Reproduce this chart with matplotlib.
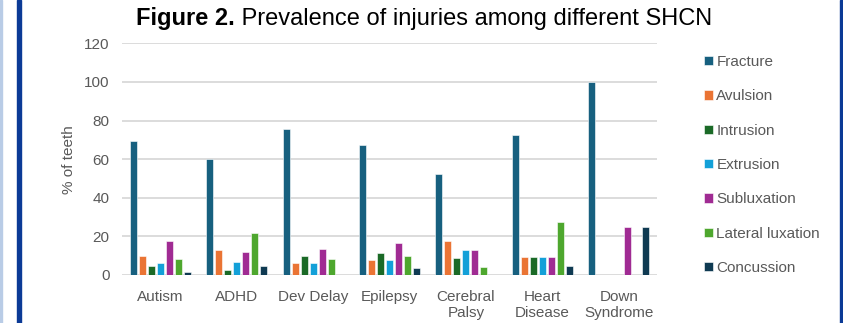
import matplotlib
matplotlib.use("Agg")
import matplotlib.pyplot as plt
from matplotlib.patches import Rectangle
import numpy as np

plt.rcParams['font.family'] = ['Liberation Sans', 'DejaVu Sans']

# data (% of teeth)
groups = ["Autism", "ADHD", "Dev Delay", "Epilepsy", "Cerebral\nPalsy",
          "Heart\nDisease", "Down\nSyndrome"]
injuries = ["Fracture", "Avulsion", "Intrusion", "Extrusion", "Subluxation",
            "Lateral luxation", "Concussion"]
fracture = [69.2, 60.0, 75.5, 67.5, 52.2, 72.7, 100.0]
avulsion = [9.6, 12.9, 6.0, 7.6, 17.4, 9.1, 0]
intrusion = [4.6, 2.4, 9.7, 11.2, 8.7, 9.1, 0]
extrusion = [6.4, 6.9, 6.0, 7.6, 13.0, 9.1, 0]
subluxation = [17.6, 11.9, 13.4, 16.4, 13.0, 9.1, 25.0]
lateral = [8.1, 21.5, 8.3, 10.0, 4.3, 27.3, 0]
concussion = [1.5, 4.6, 0, 3.6, 0, 4.5, 25.0]
colors = ["#17607f", "#ea7434", "#1b6a27", "#13a0d8", "#a02b93", "#4ea72e", "#0f3a52"]

series = [fracture, avulsion, intrusion, extrusion, subluxation, lateral, concussion]

fig = plt.figure(figsize=(8.43, 3.23), dpi=100)
W, H = 843, 323
ax = fig.add_axes([122 / W, 48 / H, 535 / W, 231.7 / H])

x = np.arange(len(groups))
slot = 9 / 76.4
for j, (vals, name, c) in enumerate(zip(series, injuries, colors)):
    ax.bar(x + (j - 3) * slot, vals, width=0.092, color=c, label=name,
           edgecolor="white", linewidth=0.4, zorder=3)

ax.set_xlim(-0.5, len(groups) - 0.5)
ax.set_ylim(0, 120)
ax.set_yticks(range(0, 121, 20))
ax.yaxis.grid(True, color="#d9d9d9", linewidth=1.3, zorder=0)
ax.set_axisbelow(True)
for s in ax.spines.values():
    s.set_visible(False)
ax.tick_params(axis="both", length=0, colors="#595959", labelsize=11)
ax.tick_params(axis="y", pad=9)
ax.set_xticks(x)
ax.set_xticklabels(groups, linespacing=1.15)
ax.tick_params(axis="x", pad=11)
ax.set_ylabel("% of teeth", color="#595959", fontsize=11, labelpad=6)

leg = fig.legend(loc="upper left", bbox_to_anchor=(698 / W, 1 - 49 / H),
                 frameon=False, fontsize=11, labelspacing=1.33,
                 handlelength=0.55, handleheight=0.55, handletextpad=0.25,
                 borderaxespad=0)
for t in leg.get_texts():
    t.set_color("#595959")

# title: bold figure number + normal text
t1 = fig.text(136 / W, 1 - 19 / H, "Figure 2.", weight="bold",
              ha="left", va="center", fontsize=17)
ax.annotate(" Prevalence of injuries among different SHCN", xy=(1, 0),
            xycoords=t1, ha="left", va="bottom", fontsize=17,
            annotation_clip=False)

# page borders
fig.patches.append(Rectangle((0, 0), 1.5 / W, 1, transform=fig.transFigure,
                             color="#b9cce6", zorder=0))
fig.patches.append(Rectangle((17 / W, 0), 4 / W, 1, transform=fig.transFigure,
                             color="#0b3a96", zorder=0))
fig.patches.append(Rectangle((840 / W, 0), 3 / W, 1, transform=fig.transFigure,
                             color="#0b3a96", zorder=0))

plt.savefig("out.png", dpi=100)
